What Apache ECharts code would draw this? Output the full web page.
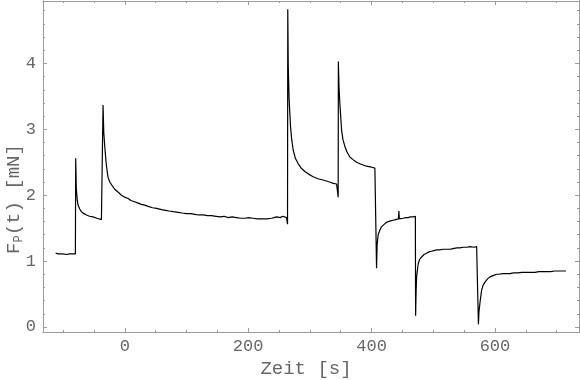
<!DOCTYPE html>
<html><head><meta charset="utf-8">
<script src="https://cdn.jsdelivr.net/npm/echarts@6/dist/echarts.min.js"></script>
<style>html,body{margin:0;padding:0;background:#fff}#c{width:580px;height:380px}</style>
</head><body><div id="c"></div>
<script>
// Zeit [s]
const time = [
  -112,-108,-105,-101,-98,-94,-90,-87,-84,-80,
  -79.5,-78.5,-77,-75.7,-73,-70.2,-66,-62.1,-57,-51.4,-45,-37.8,-35.5,
  -35.2,-34,-32.4,-31,-29.7,-27.1,-24.3,-20,-16.2,-10,-5.4,0,5.4,10,16,21.6,27,32.4,38,45,52,59.5,66,72,79,86.4,93,100,107,113.5,120,127,134,140.6,148,155,161,167.5,174,181,188,194.6,201,208,215,221.7,230,237.9,242,246,249,252,256,259,262.2,
  263.8,264.2,265,266.4,268.7,270.5,272.9,276.5,281,286,291.9,298,305.3,313,321.5,332,338,343.3,345.5,
  345.9,346.2,347.2,348.6,351.4,353.5,356.7,360,364.8,370,375.7,383,391.9,398,402,405.4,407.8,
  408.1,409,410.7,413.5,416,418.8,423,427,431,435,439,443.5,444.3,445,448,451.3,455,459,463,467.5,471,
  471.4,472.2,473,475.6,478,481.1,485,489.2,493,497,501,505.4,510,516,521,527,532,538,543,548.6,554,560,566,570.3,572.8,
  573.2,574,575.6,578.4,581,583.8,588,591.9,597,602.7,607,612,618,624.3,630,637,644,651.4,658,665,671,678.3,684,690,697,703,709,715.1
];
// F_P(t) [mN]
const force = [
  1.12,1.11,1.12,1.11,1.12,1.10,1.11,1.12,1.11,1.11,
  2.56,2.10,1.93,1.85,1.79,1.75,1.72,1.70,1.68,1.67,1.65,1.63,1.62,
  3.37,2.95,2.74,2.58,2.45,2.27,2.20,2.14,2.09,2.04,2.00,1.97,1.95,1.92,1.90,1.88,1.86,1.85,1.83,1.81,1.80,1.78,1.77,1.76,1.75,1.74,1.73,1.72,1.72,1.71,1.70,1.70,1.69,1.69,1.68,1.67,1.68,1.66,1.67,1.66,1.65,1.65,1.66,1.65,1.64,1.64,1.64,1.65,1.66,1.67,1.66,1.66,1.68,1.67,1.66,
  1.56,4.82,3.95,3.45,3.04,2.85,2.69,2.56,2.48,2.41,2.36,2.32,2.28,2.25,2.23,2.20,2.18,2.17,2.17,
  1.97,4.03,3.65,3.40,2.99,2.85,2.74,2.66,2.58,2.54,2.50,2.47,2.44,2.43,2.42,2.41,2.40,
  0.89,1.25,1.40,1.47,1.52,1.55,1.58,1.60,1.61,1.62,1.63,1.64,1.76,1.64,1.65,1.65,1.66,1.66,1.67,1.67,1.68,
  0.17,0.55,0.76,0.96,1.03,1.06,1.10,1.12,1.14,1.15,1.16,1.17,1.17,1.18,1.18,1.18,1.19,1.20,1.20,1.21,1.21,1.22,1.21,1.22,1.21,
  0.04,0.22,0.36,0.56,0.64,0.68,0.73,0.76,0.78,0.80,0.80,0.81,0.81,0.81,0.82,0.82,0.83,0.83,0.83,0.83,0.84,0.84,0.84,0.84,0.85,0.85,0.85,0.85
];
const xMajorTicks = [0, 200, 400, 600];
const xMinorTicks = [-100,-50,50,100,150,250,300,350,450,500,550,650,700];
const yMajorTicks = [0, 1, 2, 3, 4];
const yMinorTicks = [0.2,0.4,0.6,0.8,1.2,1.4,1.6,1.8,2.2,2.4,2.6,2.8,3.2,3.4,3.6,3.8,4.2,4.4,4.6,4.8];

const xMin = -132.5, xMax = 736.2, yMin = -0.076, yMax = 4.947;
const frameColor = '#9a9a9a';
const labelColor = '#666';
const fontFam = '"Liberation Mono", monospace';

function xAx(pos, ticks, len, labels) {
  return {
    type: 'value', position: pos, min: xMin, max: xMax,
    axisLine: {show: true, onZero: false, lineStyle: {color: frameColor, width: 1}},
    axisTick: {show: true, inside: true, length: len, customValues: ticks, lineStyle: {color: frameColor}},
    axisLabel: labels ? {show: true, customValues: ticks, color: labelColor, fontFamily: fontFam, fontSize: 17, margin: 6}
                      : {show: false},
    splitLine: {show: false}
  };
}
function yAx(pos, ticks, len, labels) {
  return {
    type: 'value', position: pos, min: yMin, max: yMax,
    axisLine: {show: true, onZero: false, lineStyle: {color: frameColor, width: 1}},
    axisTick: {show: true, inside: true, length: len, customValues: ticks, lineStyle: {color: frameColor}},
    axisLabel: labels ? {show: true, customValues: ticks, color: labelColor, fontFamily: fontFam, fontSize: 17, margin: 7}
                      : {show: false},
    splitLine: {show: false}
  };
}

const data = time.map((t, i) => [t, force[i]]);
const chart = echarts.init(document.getElementById('c'), null, {renderer: 'canvas'});
chart.setOption({
  animation: false,
  backgroundColor: '#fff',
  grid: {left: 43, right: 1, top: 1, bottom: 48, containLabel: false},
  xAxis: [
    xAx('bottom', xMajorTicks, 4, true),
    xAx('bottom', xMinorTicks, 2, false),
    xAx('top', xMajorTicks, 4, false),
    xAx('top', xMinorTicks, 2, false)
  ],
  yAxis: [
    yAx('left', yMajorTicks, 4, true),
    yAx('left', yMinorTicks, 2, false),
    yAx('right', yMajorTicks, 4, false),
    yAx('right', yMinorTicks, 2, false)
  ],
  series: [{
    type: 'line', data: data, xAxisIndex: 0, yAxisIndex: 0,
    showSymbol: false, symbol: 'none',
    lineStyle: {color: '#000', width: 1.2},
    clip: true
  }],
  graphic: [
    {type: 'text', x: 306, y: 369, style: {text: 'Zeit [s]', font: '19px "Liberation Mono", monospace', fill: '#666', align: 'center', verticalAlign: 'middle'}},
    {type: 'text', x: 14, y: 199, rotation: Math.PI / 2,
     style: {text: '{a|F}{s|P}{a|(t) [mN]}', align: 'center', verticalAlign: 'middle', fill: '#666',
       rich: {
         a: {fontFamily: 'Liberation Mono', fontSize: 19, fill: '#666', color: '#666'},
         s: {fontFamily: 'Liberation Mono', fontSize: 12, fill: '#666', color: '#666', padding: [10, 0, 0, 0]}
       }}}
  ]
});
</script></body></html>
